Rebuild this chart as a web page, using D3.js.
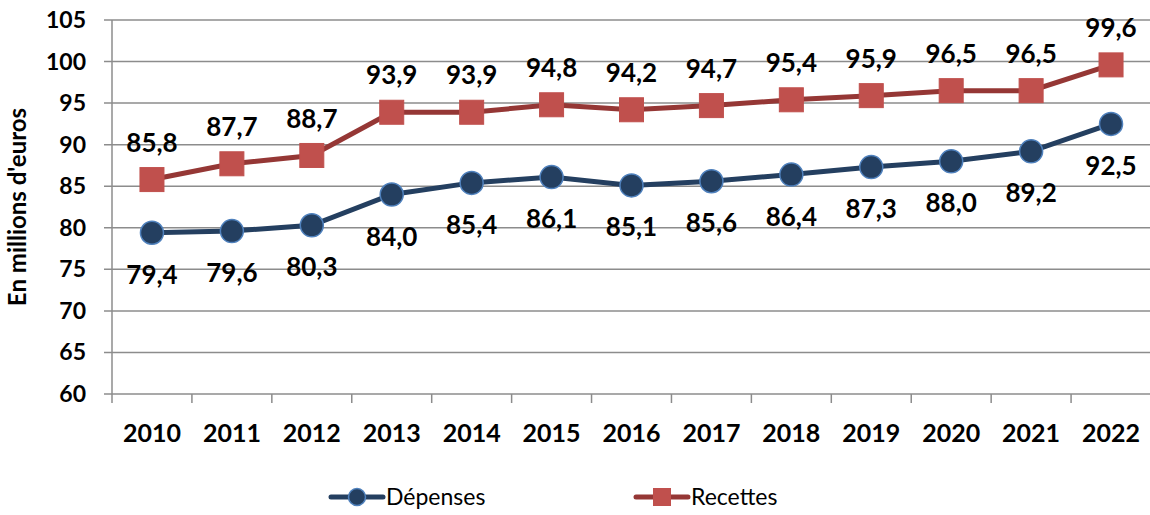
<!DOCTYPE html>
<html>
<head>
<meta charset="utf-8">
<script src="https://cdn.jsdelivr.net/npm/d3@7.9.0/dist/d3.min.js"></script>
<style>
  body { margin: 0; background: #fff; }
  svg { display: block; font-family: Lato, "Open Sans", sans-serif; }
</style>
</head>
<body>
<svg id="chart" width="1150" height="515"></svg>
<script>
const years = ['2010', '2011', '2012', '2013', '2014', '2015', '2016', '2017', '2018', '2019', '2020', '2021', '2022'];
const depenses = [79.4, 79.6, 80.3, 84.0, 85.4, 86.1, 85.1, 85.6, 86.4, 87.3, 88.0, 89.2, 92.5];
const recettes = [85.8, 87.7, 88.7, 93.9, 93.9, 94.8, 94.2, 94.7, 95.4, 95.9, 96.5, 96.5, 99.6];
const yTicks = [60, 65, 70, 75, 80, 85, 90, 95, 100, 105];

const svg = d3.select('#chart');
const plotLeft = 112, plotRight = 1151, plotTop = 20, plotBottom = 394;

const x = d3.scaleBand().domain(years).range([plotLeft, plotRight]);
const y = d3.scaleLinear().domain([60, 105]).range([plotBottom, plotTop]);
const fmt = v => v.toFixed(1).replace('.', ',');

// grid lines
svg.append('g')
  .selectAll('line')
  .data(yTicks)
  .join('line')
  .attr('x1', plotLeft - 8).attr('x2', plotRight)
  .attr('y1', d => y(d)).attr('y2', d => y(d))
  .attr('stroke', '#8c8c8c').attr('stroke-width', 1.5);

// y axis line
svg.append('line')
  .attr('x1', plotLeft).attr('x2', plotLeft)
  .attr('y1', plotTop).attr('y2', plotBottom + 9)
  .attr('stroke', '#8c8c8c').attr('stroke-width', 1.5);

// x tick marks at band edges
svg.append('g')
  .selectAll('line')
  .data(years.slice(1))
  .join('line')
  .attr('x1', d => x(d)).attr('x2', d => x(d))
  .attr('y1', plotBottom).attr('y2', plotBottom + 9)
  .attr('stroke', '#8c8c8c').attr('stroke-width', 1.5);

// y tick labels
svg.append('g')
  .selectAll('text')
  .data(yTicks)
  .join('text')
  .attr('x', 86).attr('y', d => y(d))
  .attr('dy', '0.35em')
  .attr('text-anchor', 'end')
  .attr('font-size', 23).attr('font-weight', 'bold')
  .text(d => d);

// x labels
svg.append('g')
  .selectAll('text')
  .data(years)
  .join('text')
  .attr('x', d => x(d) + x.bandwidth() / 2).attr('y', 433)
  .attr('dy', '0.35em')
  .attr('text-anchor', 'middle')
  .attr('font-size', 25).attr('font-weight', 'bold')
  .text(d => d);

// y title
svg.append('text')
  .attr('transform', 'translate(26,207) rotate(-90)')
  .attr('text-anchor', 'middle')
  .attr('font-size', 24).attr('font-weight', 'bold')
  .text("En millions d'euros");

const cx = (d, i) => x(years[i]) + x.bandwidth() / 2;
const line = d3.line().x(cx).y(d => y(d));

// Recettes
svg.append('path').datum(recettes)
  .attr('d', line).attr('fill', 'none')
  .attr('stroke', '#953735').attr('stroke-width', 5);
svg.append('g').selectAll('rect').data(recettes).join('rect')
  .attr('x', (d, i) => cx(d, i) - 12).attr('y', d => y(d) - 12)
  .attr('width', 24).attr('height', 24)
  .attr('fill', '#c0504d').attr('stroke', '#c0504d');
svg.append('g').selectAll('text').data(recettes).join('text')
  .attr('x', cx).attr('y', d => y(d) - 37)
  .attr('dy', '0.35em').attr('text-anchor', 'middle')
  .attr('font-size', 26).attr('font-weight', 'bold')
  .text(fmt);

// Dépenses
svg.append('path').datum(depenses)
  .attr('d', line).attr('fill', 'none')
  .attr('stroke', '#243f60').attr('stroke-width', 5);
svg.append('g').selectAll('circle').data(depenses).join('circle')
  .attr('cx', cx).attr('cy', d => y(d))
  .attr('r', 11.5)
  .attr('fill', '#243f60').attr('stroke', '#4f81bd').attr('stroke-width', 1.5);
svg.append('g').selectAll('text').data(depenses).join('text')
  .attr('x', cx).attr('y', d => y(d) + 42)
  .attr('dy', '0.35em').attr('text-anchor', 'middle')
  .attr('font-size', 26).attr('font-weight', 'bold')
  .text(fmt);

// legend
const legend = [
  { name: 'Dépenses', x0: 331, line: '#243f60', type: 'circle' },
  { name: 'Recettes', x0: 636, line: '#953735', type: 'rect' }
];
legend.forEach(l => {
  const g = svg.append('g');
  g.append('line').attr('x1', l.x0).attr('x2', l.x0 + 52)
    .attr('y1', 497).attr('y2', 497)
    .attr('stroke', l.line).attr('stroke-width', 5).attr('stroke-linecap', 'round');
  if (l.type === 'circle') {
    g.append('circle').attr('cx', l.x0 + 26).attr('cy', 497).attr('r', 8.5)
      .attr('fill', '#243f60').attr('stroke', '#4f81bd').attr('stroke-width', 1.5);
  } else {
    g.append('rect').attr('x', l.x0 + 17).attr('y', 488).attr('width', 18).attr('height', 18)
      .attr('fill', '#c0504d');
  }
  g.append('text').attr('x', l.x0 + 55).attr('y', 497).attr('dy', '0.35em')
    .attr('font-size', 23).text(l.name);
});
</script>
</body>
</html>
